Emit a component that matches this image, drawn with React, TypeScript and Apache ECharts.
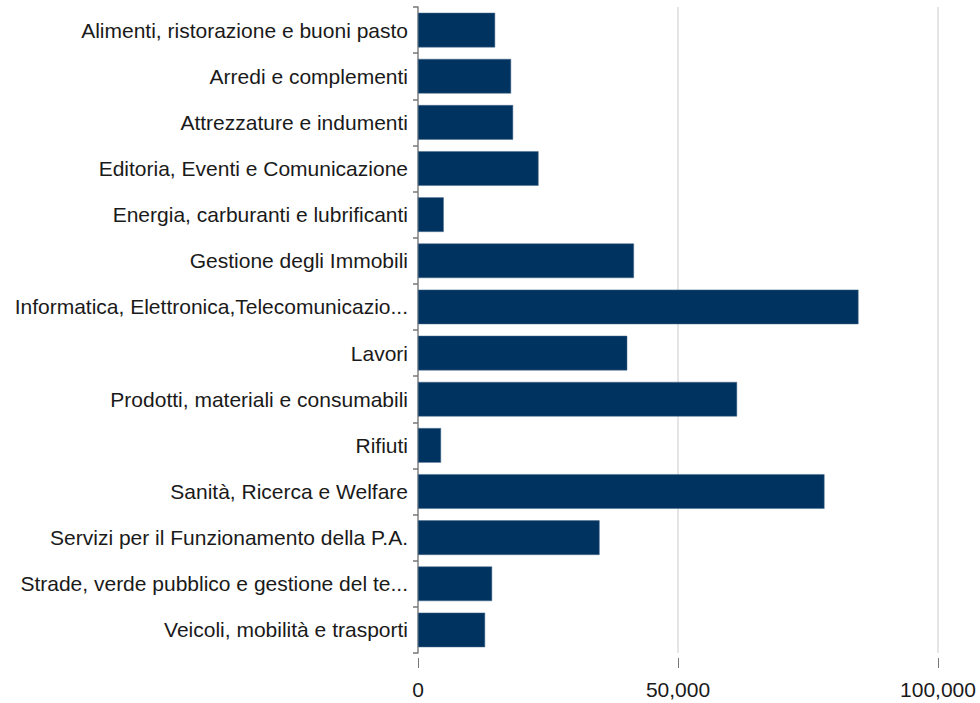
import React, { useEffect, useRef } from "react";
import * as echarts from "echarts";

const categories = [
  "Alimenti, ristorazione e buoni pasto",
  "Arredi e complementi",
  "Attrezzature e indumenti",
  "Editoria, Eventi e Comunicazione",
  "Energia, carburanti e lubrificanti",
  "Gestione degli Immobili",
  "Informatica, Elettronica,Telecomunicazio...",
  "Lavori",
  "Prodotti, materiali e consumabili",
  "Rifiuti",
  "Sanità, Ricerca e Welfare",
  "Servizi per il Funzionamento della P.A.",
  "Strade, verde pubblico e gestione del te...",
  "Veicoli, mobilità e trasporti",
];

const values = [
  14830, 17900, 18290, 23180, 4950, 41530, 84710, 40240, 61360, 4430, 78170,
  34920, 14250, 12900,
];

const xMin = 0;
const xMax = 100000;
const xInterval = 50000;

export default function App() {
  const ref = useRef<HTMLDivElement>(null);
  useEffect(() => {
    if (!ref.current) return;
    const chart = echarts.init(ref.current, undefined, { renderer: "svg" });
    const font = "'Liberation Sans', Arial, sans-serif";
    chart.setOption({
      animation: false,
      backgroundColor: "#ffffff",
      grid: { left: 418, right: 42, top: 7, bottom: 50, containLabel: false },
      xAxis: {
        type: "value",
        min: xMin,
        max: xMax,
        interval: xInterval,
        offset: 5,
        axisLine: { show: false },
        axisTick: { show: true, length: 10, lineStyle: { color: "#777", width: 1 } },
        splitLine: { show: true, lineStyle: { color: "#dcdcdc", width: 1.5 } },
        axisLabel: {
          color: "#1a1a1a",
          fontSize: 21,
          fontFamily: font,
          margin: 21,
          formatter: (v: number) => v.toLocaleString("en-US"),
        },
      },
      yAxis: {
        type: "category",
        inverse: true,
        data: categories,
        axisLine: { show: true, lineStyle: { color: "#888", width: 1.5 } },
        axisTick: { show: true, length: 5, lineStyle: { color: "#777", width: 1.5 } },
        axisLabel: {
          color: "#1a1a1a",
          fontSize: 21,
          fontFamily: font,
          margin: 10,
          padding: [4, 0, 0, 0],
        },
      },
      series: [
        {
          type: "bar",
          data: values,
          barCategoryGap: "25%",
          itemStyle: { color: "#003360", borderColor: "#4a6a8c", borderWidth: 0.5 },
        },
      ],
    });
    return () => chart.dispose();
  }, []);
  return (
    <div
      ref={ref}
      style={{ position: "absolute", left: 0, top: 0, width: 980, height: 703 }}
    />
  );
}
